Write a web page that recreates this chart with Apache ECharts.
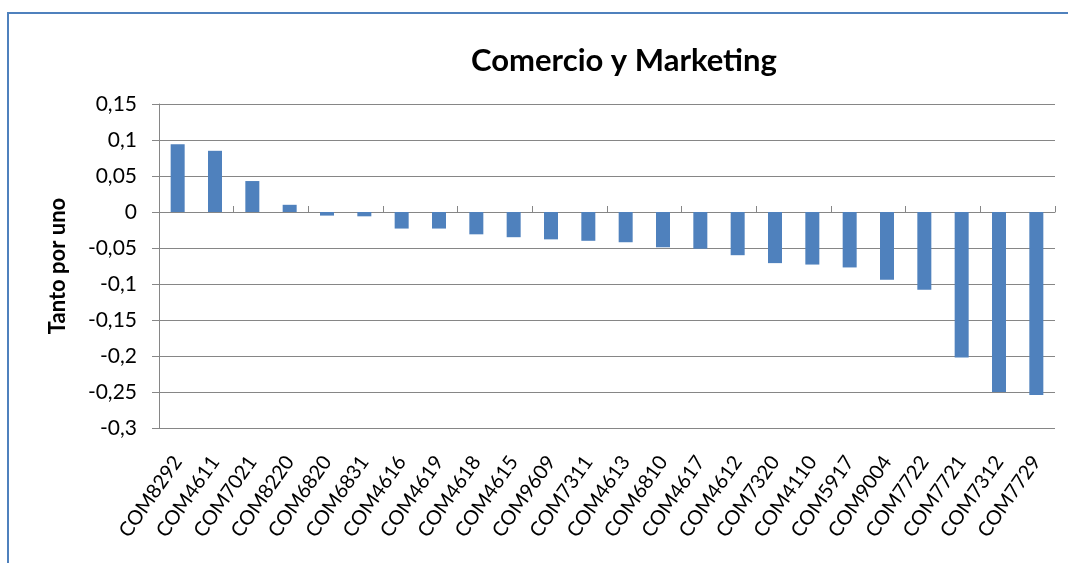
<!DOCTYPE html>
<html>
<head>
<meta charset="utf-8">
<script src="https://cdn.jsdelivr.net/npm/echarts@6/dist/echarts.min.js"></script>
<style>
html,body{margin:0;padding:0;background:#fff;}
#chart{width:1068px;height:563px;}
</style>
</head>
<body>
<div id="chart"></div>
<script>
const categories = ['COM8292','COM4611','COM7021','COM8220','COM6820','COM6831','COM4616','COM4619','COM4618','COM4615','COM9609','COM7311','COM4613','COM6810','COM4617','COM4612','COM7320','COM4110','COM5917','COM9004','COM7722','COM7721','COM7312','COM7729'];
const values = [0.094,0.085,0.043,0.010,-0.005,-0.006,-0.023,-0.023,-0.031,-0.035,-0.038,-0.040,-0.042,-0.049,-0.051,-0.060,-0.071,-0.073,-0.077,-0.094,-0.108,-0.202,-0.250,-0.254];
const titleText = 'Comercio y Marketing';
const yAxisName = 'Tanto por uno';

const chart = echarts.init(document.getElementById('chart'), null, {renderer:'canvas'});
const font = 'Lato, "Open Sans", sans-serif';
chart.setOption({
  animation:false,
  backgroundColor:'#fff',
  title:{text:titleText,left:619,textAlign:'center',top:40,textStyle:{fontFamily:font,fontSize:31,fontWeight:'bold',color:'#000'}},
  graphic:[{type:'rect',shape:{x:8,y:13,width:1200,height:700},style:{fill:'none',stroke:'#4F81BD',lineWidth:2},silent:true}],
  grid:{left:159,right:13,top:104,bottom:135,containLabel:false},
  xAxis:[{
    type:'category',data:categories,position:'bottom',
    axisLine:{show:false,onZero:false},axisTick:{show:false},
    axisLabel:{rotate:55,interval:0,margin:30,fontFamily:font,fontSize:20,color:'#000'}
  },{
    type:'category',data:categories,
    axisLine:{show:true,onZero:true,lineStyle:{color:'#868686',width:1}},
    axisTick:{show:true,length:6,inside:false,alignWithLabel:false,lineStyle:{color:'#868686'}},
    axisLabel:{show:false}
  }],
  yAxis:{
    type:'value',min:-0.3,max:0.15,interval:0.05,
    name:yAxisName,nameLocation:'middle',nameGap:90,nameRotate:90,
    nameTextStyle:{fontFamily:font,fontSize:22,fontWeight:'bold',color:'#000'},
    axisLine:{show:true,lineStyle:{color:'#868686'}},
    axisTick:{show:true,length:7,lineStyle:{color:'#868686'}},
    splitLine:{show:true,lineStyle:{color:'#868686',width:1}},
    axisLabel:{margin:22,fontFamily:font,fontSize:21,color:'#000',
      formatter:v=>{const r=Math.round(v*100)/100;return String(r).replace('.',',');}}
  },
  series:[{type:'bar',data:values,xAxisIndex:0,barWidth:14,itemStyle:{color:'#4F81BD'}}]
});
</script>
</body>
</html>
